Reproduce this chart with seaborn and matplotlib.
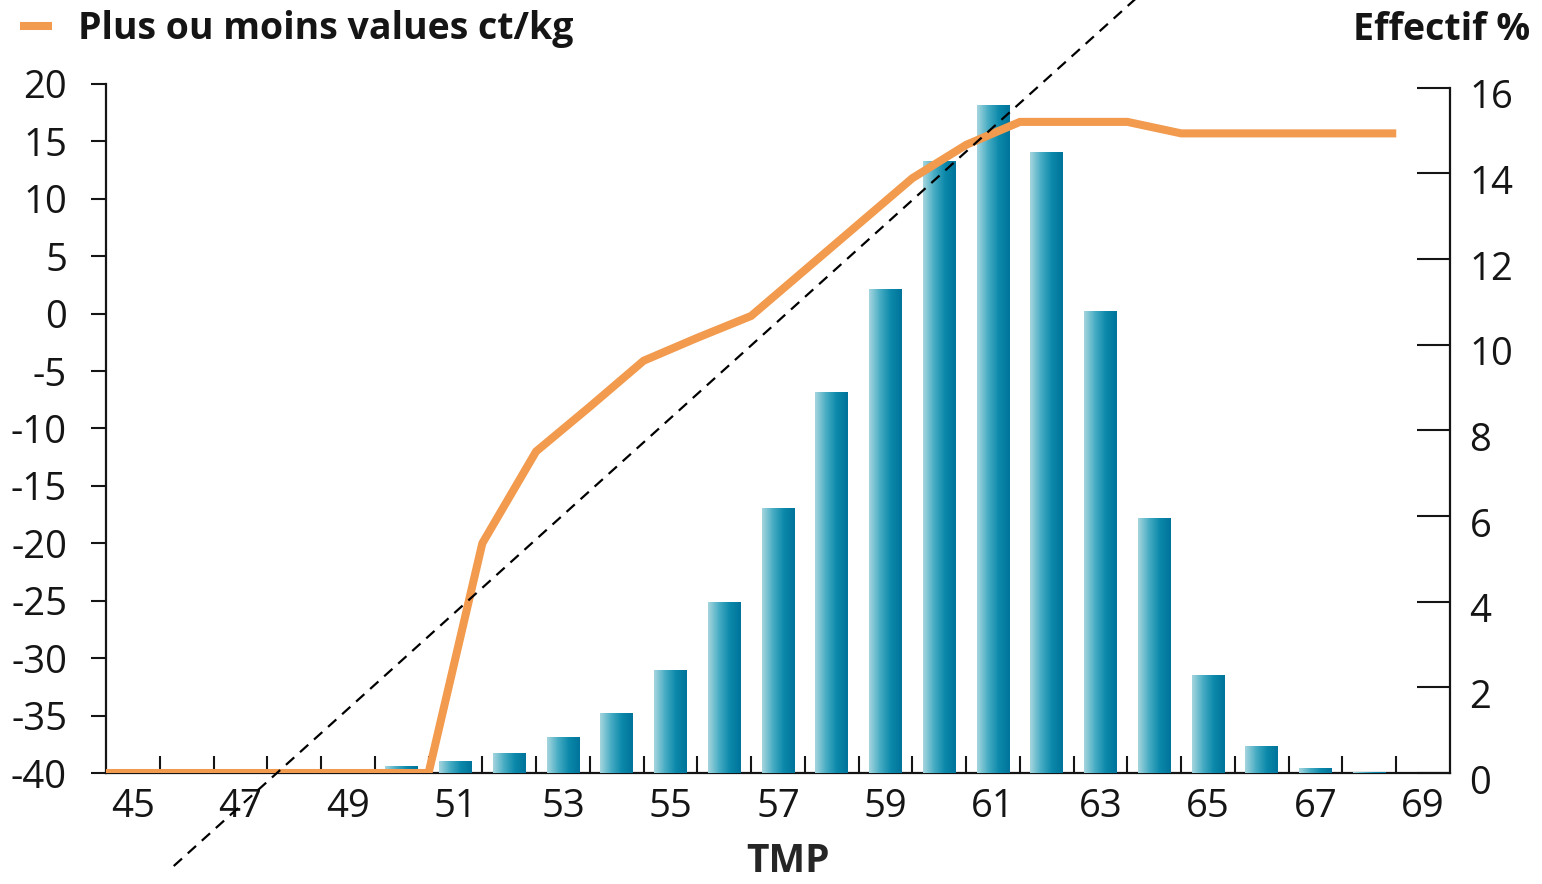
import numpy as np
import seaborn as sns
import matplotlib.pyplot as plt
from matplotlib.colors import LinearSegmentedColormap
from matplotlib.lines import Line2D
from matplotlib.transforms import ScaledTranslation

# TMP classes and share of carcasses (%) in each class
tmp_classes = [45, 46, 47, 48, 49, 50, 51, 52, 53, 54, 55, 56,
               57, 58, 59, 60, 61, 62, 63, 64, 65, 66, 67, 68]
effectif_pct = [0, 0, 0, 0, 0.1, 0.17, 0.28, 0.47, 0.83, 1.4, 2.4, 4.0,
                6.2, 8.9, 11.3, 14.3, 15.6, 14.5, 10.8, 5.95, 2.3, 0.63, 0.12, 0.03]

# Price bonus / penalty (ct/kg) at the class boundaries
edge_tmp = [44.5, 45.5, 46.5, 47.5, 48.5, 49.5, 50.5, 51.5, 52.5, 53.5, 54.5, 55.5,
            56.5, 57.5, 58.5, 59.5, 60.5, 61.5, 62.5, 63.5, 64.5, 65.5, 66.5, 67.5, 68.5]
plus_moins = [-40, -40, -40, -40, -40, -40, -40, -20, -12, -8.1, -4.1, -2.1,
              -0.2, 3.8, 7.8, 11.8, 14.7, 16.7, 16.7, 16.7, 15.7, 15.7, 15.7, 15.7, 15.7]

# Dashed reference line (TMP, ct/kg)
trend_x = [45.76, 64.5]
trend_y = [-48.1, 31.0]

x_tick_labels = [45, 47, 49, 51, 53, 55, 57, 59, 61, 63, 65, 67, 69]
x_boundaries = [45.5, 46.5, 47.5, 48.5, 49.5, 50.5, 51.5, 52.5, 53.5, 54.5, 55.5, 56.5,
                57.5, 58.5, 59.5, 60.5, 61.5, 62.5, 63.5, 64.5, 65.5, 66.5, 67.5, 68.5]
left_ticks = [-40, -35, -30, -25, -20, -15, -10, -5, 0, 5, 10, 15, 20]
right_ticks = [0, 2, 4, 6, 8, 10, 12, 14, 16]

ORANGE = "#f29a4d"
INK = "#151515"
TICK_SIZE = 27.5
TITLE_SIZE = 27
bar_cmap = LinearSegmentedColormap.from_list(
    "teal", ["#a6d6df", "#48adc4", "#0b88aa", "#00739a"])

sns.set_style("ticks")
plt.rcParams["font.family"] = ["Open Sans", "DejaVu Sans"]
plt.rcParams["text.color"] = INK
plt.rcParams["xtick.color"] = INK
plt.rcParams["ytick.color"] = INK
plt.rcParams["axes.edgecolor"] = INK

W, H = 1542, 884
fig = plt.figure(figsize=(W / 100, H / 100), dpi=100)
ax = fig.add_axes([106 / W, 1 - 773 / H, 1344 / W, 689 / H])

# Distribution bars (right axis)
sns.barplot(x=tmp_classes, y=effectif_pct, native_scale=True, width=0.61,
            color="#0b88aa", linewidth=0, ax=ax, zorder=3)

# Horizontal light-to-dark gradient inside each bar
grad = np.linspace(0, 1, 256).reshape(1, -1)
for patch in list(ax.patches):
    bb = patch.get_bbox()
    if bb.height <= 0:
        continue
    im = ax.imshow(grad, extent=[bb.x0, bb.x1, bb.y0, bb.y1], aspect="auto",
                   cmap=bar_cmap, origin="lower", zorder=3, interpolation="bicubic")
    im.set_clip_path(patch)
    patch.set_facecolor("none")

ax.set_xlim(44.5, 69.5)
ax.set_ylim(0, 16.09)

# Price curve (left axis)
ax2 = ax.twinx()
sns.lineplot(x=edge_tmp, y=plus_moins, ax=ax2, color=ORANGE, linewidth=5.8,
             solid_capstyle="butt", solid_joinstyle="miter", legend=False, zorder=4)
ax2.plot(trend_x, trend_y, color="black", linewidth=1.6, linestyle=(0, (5, 3.5)),
         clip_on=False, zorder=5)
ax2.set_ylim(-40, 20)
ax2.set_xlim(44.5, 69.5)

# Axes furniture
ax.yaxis.tick_right()
ax2.yaxis.tick_left()
for s in ["left", "top"]:
    ax.spines[s].set_visible(False)
ax.spines["right"].set_bounds(0, 16)
ax.spines["right"].set_linewidth(1.6)
ax.spines["bottom"].set_linewidth(1.6)
ax.spines["bottom"].set_zorder(2)
for s in ["right", "top", "bottom"]:
    ax2.spines[s].set_visible(False)
ax2.spines["left"].set_bounds(-40, 20)
ax2.spines["left"].set_linewidth(1.6)

ax.set_yticks(right_ticks)
ax.set_yticklabels([str(v) for v in right_ticks])
ax.tick_params(axis="y", which="major", direction="in", length=24, width=1.5,
               pad=14, labelsize=TICK_SIZE, right=True, left=False)
for lab in ax.get_yticklabels():
    lab.set_transform(lab.get_transform() + ScaledTranslation(0, -0.06, fig.dpi_scale_trans))

ax2.set_yticks(left_ticks)
ax2.set_yticklabels([str(v) for v in left_ticks])
ax2.tick_params(axis="y", which="major", direction="out", length=11, width=1.5,
                pad=17, labelsize=TICK_SIZE, left=True, right=False)

ax.set_xticks(x_tick_labels)
ax.set_xticklabels([str(v) for v in x_tick_labels])
ax.set_xticks(x_boundaries, minor=True)
ax.tick_params(axis="x", which="major", length=0, pad=11, labelsize=TICK_SIZE)
ax.tick_params(axis="x", which="minor", direction="in", length=12, width=1.5, bottom=True)

ax.set_ylabel("")
ax2.set_ylabel("")
ax.set_xlabel("TMP", fontsize=TITLE_SIZE + 1, fontweight="bold", va="center")
ax.xaxis.set_label_coords((788 - 106) / 1344, (773 - 862) / 689)

fig.text(1530 / W, 1 - 30 / H, "Effectif %", ha="right", va="center",
         fontsize=TITLE_SIZE, fontweight="bold")

handle = Line2D([], [], color=ORANGE, linewidth=5.8, solid_capstyle="butt")
fig.legend(handles=[handle], labels=["Plus ou moins values ct/kg"],
           loc="upper left", bbox_to_anchor=(20 / W, 1 - 10 / H), frameon=False,
           prop=dict(weight="bold", size=TITLE_SIZE), handlelength=0.85,
           handletextpad=0.7, borderaxespad=0, borderpad=0)

fig.savefig("out.png", dpi=100, facecolor="white")
